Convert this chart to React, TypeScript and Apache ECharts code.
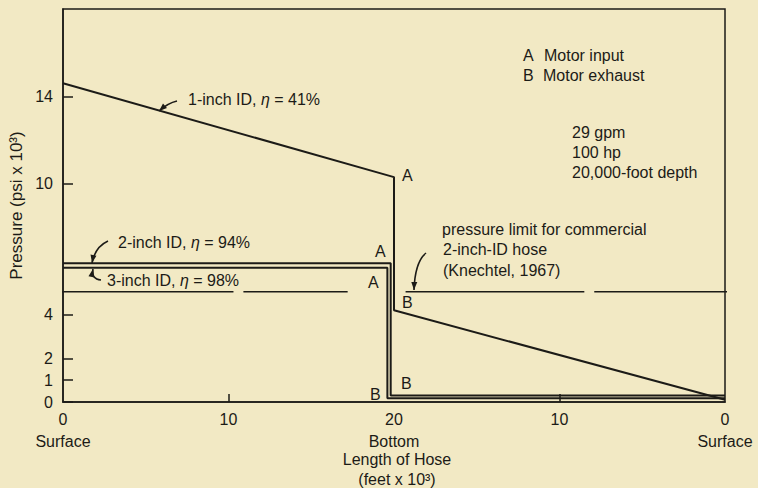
import React, { useEffect, useRef } from "react";
import * as echarts from "echarts";

// Hose position (0 = surface, 20 = bottom, 40 = back at surface), pressure in psi x 10^3
const oneInch: [number, number][] = [[0, 14.6], [20, 10.3], [20, 4.2], [40, 0.1]];
const twoInch: [number, number][] = [[0, 6.35], [19.8, 6.35], [19.8, 0.3], [40, 0.3]];
const threeInch: [number, number][] = [[0, 6.15], [19.6, 6.15], [19.6, 0.17], [40, 0.17]];
const limitValue = 5.05;
const limitSegments: [number, number][] = [[-0.4, 10.3], [10.9, 17.2], [20.7, 31.5], [32.1, 40.6]];
const yTickValues = [0, 1, 2, 4, 10, 14];
const xTickMarks = [10, 30];
const xLabelNames: Record<number, string> = { 0: "Surface", 20: "Bottom", 40: "Surface" };

const INK = "#1c1b17";
const BG = "#f2e9c4";
const FONT = "Liberation Sans";
const FS = 16;

function arrow(sx: number, sy: number, cx: number, cy: number, ex: number, ey: number): any[] {
  const dx = ex - cx;
  const dy = ey - cy;
  const len = Math.hypot(dx, dy) || 1;
  const ux = dx / len;
  const uy = dy / len;
  const hl = 8;
  const hw = 3;
  const bx = ex - ux * hl;
  const by = ey - uy * hl;
  return [
    {
      type: "bezierCurve",
      shape: { x1: sx, y1: sy, cpx1: cx, cpy1: cy, x2: ex, y2: ey },
      style: { stroke: INK, lineWidth: 1.6, fill: "none" },
    },
    {
      type: "polygon",
      shape: { points: [[ex, ey], [bx - uy * hw, by + ux * hw], [bx + uy * hw, by - ux * hw]] },
      style: { fill: INK },
    },
  ];
}

function txt(x: number, y: number, text: string, extra: any = {}): any {
  return {
    type: "text",
    x,
    y,
    style: {
      text,
      fill: INK,
      font: `${FS}px "${FONT}"`,
      verticalAlign: "middle",
      rich: { i: { fontStyle: "italic", fontSize: FS, fontFamily: FONT, fill: INK } },
      ...extra,
    },
  };
}

export default function App() {
  const ref = useRef<HTMLDivElement>(null);
  useEffect(() => {
    if (!ref.current) return;
    const chart = echarts.init(ref.current, null, { renderer: "svg" });
    const curve = (name: string, data: [number, number][]) => ({
      name,
      type: "line",
      data,
      symbol: "none",
      lineStyle: { color: INK, width: 2 },
      z: 3,
    });
    const limitSeries = limitSegments.map((s, i) => ({
      name: "limit" + i,
      type: "line",
      data: [[s[0], limitValue], [s[1], limitValue]],
      symbol: "none",
      clip: false,
      lineStyle: { color: INK, width: 1.5 },
      z: 2,
    }));
    chart.setOption({
      animation: false,
      backgroundColor: BG,
      textStyle: { fontFamily: FONT, color: INK },
      grid: {
        left: 63,
        right: 33,
        top: 9,
        bottom: 86,
        outerBoundsMode: "none",
        containLabel: false,
        show: true,
        borderColor: INK,
        borderWidth: 1.5,
        backgroundColor: "transparent",
      },
      xAxis: {
        type: "value",
        min: 0,
        max: 40,
        interval: 10,
        splitLine: { show: false },
        axisLine: { show: true, lineStyle: { color: INK, width: 1.5 } },
        axisTick: { show: true, inside: true, length: 8, customValues: xTickMarks, lineStyle: { color: INK, width: 1.5 } },
        axisLabel: {
          color: INK,
          fontSize: FS,
          fontFamily: FONT,
          margin: 6,
          lineHeight: 22,
          hideOverlap: false,
          formatter: (v: number) => {
            const shown = v <= 20 ? v : 40 - v;
            const nm = xLabelNames[v];
            return nm ? `${shown}\n${nm}` : `${shown}`;
          },
        },
      },
      yAxis: {
        type: "value",
        min: 0,
        max: 18,
        splitLine: { show: false },
        axisLine: { show: true, lineStyle: { color: INK, width: 1.5 } },
        axisTick: { show: true, inside: true, length: 10, customValues: yTickValues, lineStyle: { color: INK, width: 1.5 } },
        axisLabel: { color: INK, fontSize: FS, fontFamily: FONT, margin: 10, customValues: yTickValues },
        name: "Pressure (psi x 10³)",
        nameLocation: "middle",
        nameRotate: 90,
        nameGap: 38,
        nameMoveOverlap: false,
        nameTextStyle: { color: INK, fontSize: 17, fontFamily: FONT },
      },
      series: [
        curve("1-inch ID", oneInch),
        curve("2-inch ID", twoInch),
        curve("3-inch ID", threeInch),
        ...limitSeries,
      ],
      graphic: [
        txt(188, 99, "1-inch ID, {i|η} = 41%"),
        txt(118, 242, "2-inch ID, {i|η} = 94%"),
        txt(107, 280, "3-inch ID, {i|η} = 98%"),
        ...arrow(177, 101, 168, 103, 159, 111),
        ...arrow(108, 241, 95, 247, 92, 263),
        ...arrow(101, 280, 91, 279, 93, 269),
        ...arrow(426, 253, 415, 262, 414, 290),
        txt(402, 175, "A"),
        txt(375, 251, "A"),
        txt(368, 282, "A"),
        txt(402, 302, "B"),
        txt(401, 383, "B"),
        txt(370, 394, "B"),
        txt(523, 55, "A"),
        txt(544, 55, "Motor input"),
        txt(523, 75, "B"),
        txt(543, 75, "Motor exhaust"),
        txt(572, 132, "29 gpm"),
        txt(572, 152, "100 hp"),
        txt(572, 172, "20,000-foot depth"),
        txt(442, 229, "pressure limit for commercial"),
        txt(443, 249, "2-inch-ID hose"),
        txt(443, 270, "(Knechtel, 1967)"),
        txt(397, 459, "Length of Hose", { align: "center" }),
        txt(397, 479, "(feet x 10³)", { align: "center" }),
      ],
    });
    return () => chart.dispose();
  }, []);
  return (
    <div
      ref={ref}
      style={{ position: "fixed", left: 0, top: 0, width: 758, height: 488, background: BG }}
    />
  );
}
